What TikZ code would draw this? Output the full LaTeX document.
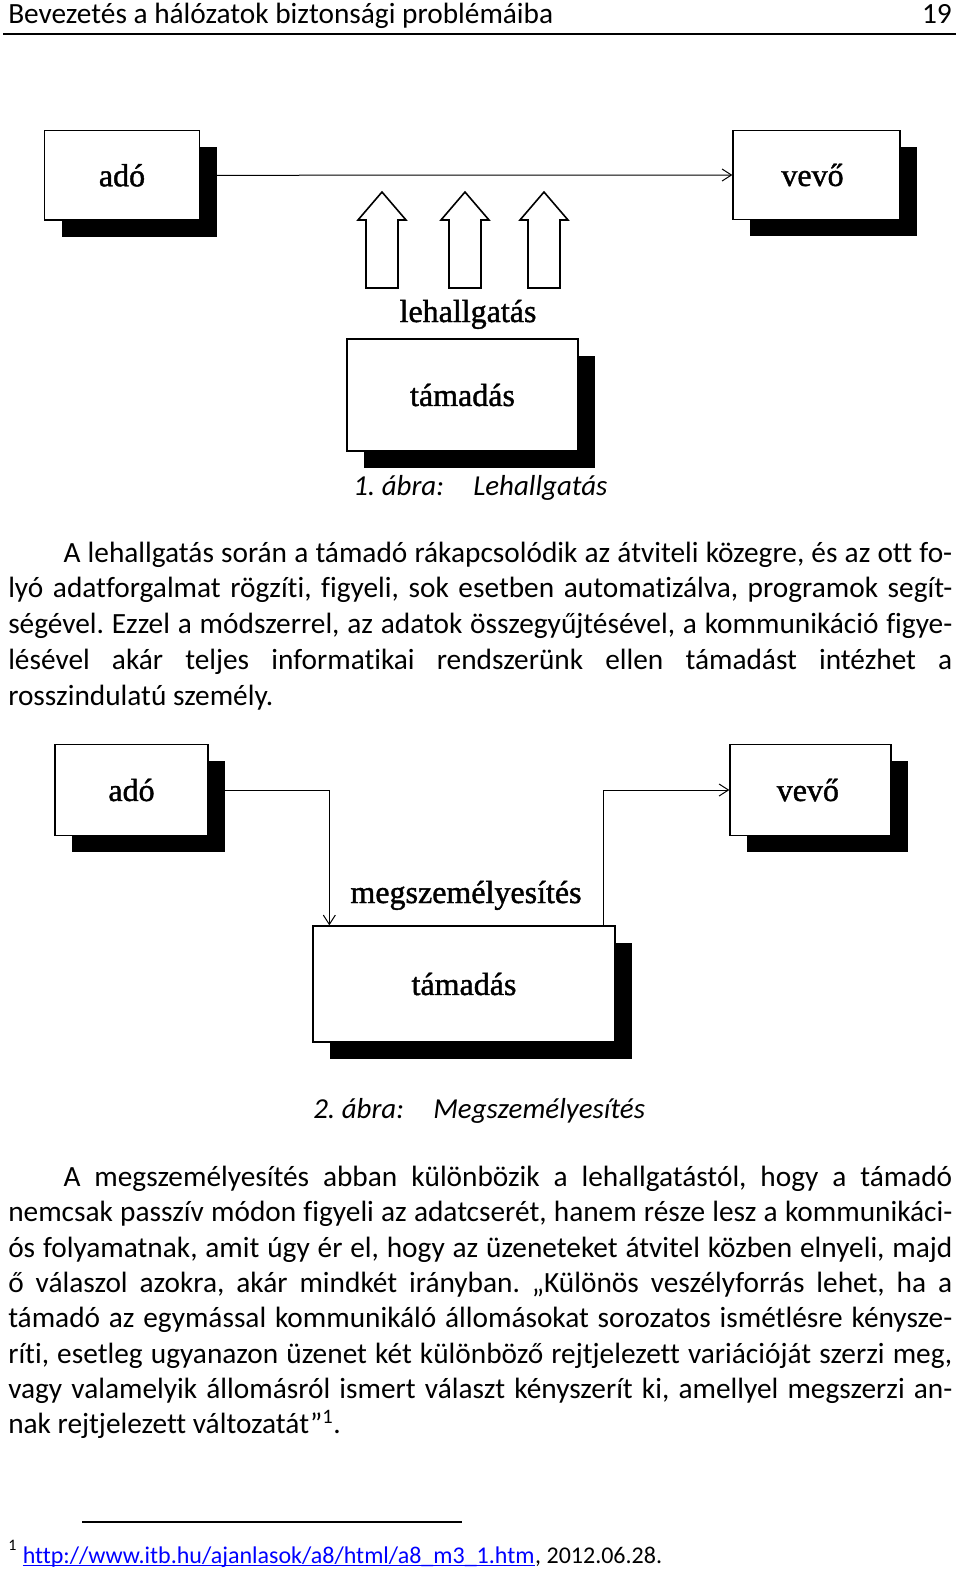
\documentclass[tikz,border=0pt]{standalone}
\usepackage{fontspec}
\setmainfont{Carlito}[Ligatures=NoCommon]
\newfontfamily\diagfont[FakeBold=1.3]{Liberation Serif}
\usetikzlibrary{arrows.meta,shadows,calc}
\definecolor{linkblue}{RGB}{0,0,255}
\newcommand\bodysize{\fontsize{22}{26}\selectfont}
\newcommand\jline[2]{\makebox[#1][s]{#2}}
\frenchspacing
\begin{document}
\frenchspacing
\begin{tikzpicture}[x=0.75pt,y=-0.75pt,
  box/.style={draw=black, line width=1pt, fill=white, inner sep=0pt,
    font=\diagfont\fontsize{24}{28}\selectfont,
    drop shadow={shadow xshift=12.75pt, shadow yshift=-12.5pt, fill=black, opacity=1}},
  lbl/.style={anchor=base, inner sep=0pt, font=\diagfont\fontsize{24}{28}\selectfont},
  txt/.style={anchor=base west, inner sep=0pt, font=\bodysize},
  figcap/.style={anchor=base west, inner sep=0pt, font=\fontsize{21.7}{26}\selectfont\itshape},
  conn/.style={line width=0.75pt, -{Straight Barb[length=7pt,width=9pt]}},
  blockarrow/.style={draw=black, line width=1.2pt, fill=white, line join=miter},
  fnote/.style={anchor=base west, inner sep=0pt, font=\fontsize{18}{21}\selectfont},
]
\useasboundingbox (0,0) rectangle (960,1575);
\fill[white] (0,0) rectangle (960,1575);

% header
\node[txt] (hdr) at (8,23) {Bevezetés a hálózatok biztonsági problémáiba};
\node[txt, anchor=base east] (pg) at (952,23) {19};
\draw[line width=0.9pt] (3,34) -- (956,34);

% figure 1
\node[box, minimum width=116.25pt, minimum height=67pt] (ado1) at (122,175.3) {adó};
\node[box, minimum width=125.25pt, minimum height=66.4pt] (vevo1) at (816.5,175) {\hspace*{-6pt}vevő};
\node[box, minimum width=173.25pt, minimum height=84pt] (tam1) at (462.5,395) {támadás};
\draw[conn] (ado1.east) -- (vevo1.west);
\foreach \cx in {382,465,544}
  \draw[blockarrow] (\cx,192) -- (\cx+24,220) -- (\cx+16,220) -- (\cx+16,288)
    -- (\cx-16,288) -- (\cx-16,220) -- (\cx-24,220) -- cycle;
\node[lbl] (leh) at (468,322) {lehallgatás};
\node[figcap] (cap1) at (353,495) {\makebox[90pt][l]{1. ábra:}Lehallgatás};

% paragraph 1
\node[txt] (p1a) at (63.3,562) {\jline{666.5pt}{A lehallgatás során a támadó rákapcsolódik az átviteli közegre, és az ott fo-}};
\node[txt] (p1b) at (8,597.5) {\jline{708pt}{lyó adatforgalmat rögzíti, figyeli, sok esetben automatizálva, programok segít-}};
\node[txt] (p1c) at (8,633.5) {\jline{708pt}{ségével. Ezzel a módszerrel, az adatok összegyűjtésével, a kommunikáció figye-}};
\node[txt] (p1d) at (8,669.5) {\jline{708pt}{lésével akár teljes informatikai rendszerünk ellen támadást intézhet a}};
\node[txt] (p1e) at (8,705) {rosszindulatú személy.};

% figure 2
\node[box, minimum width=114.75pt, minimum height=68.6pt] (ado2) at (131.5,790) {adó};
\node[box, minimum width=120.75pt, minimum height=68.6pt] (vevo2) at (810.5,790) {\hspace*{-4pt}vevő};
\node[box, minimum width=226.5pt, minimum height=87pt] (tam2) at (464,984) {támadás};
\coordinate (in2) at ($(tam2.north west)+(17,0)$);
\coordinate (out2) at ($(tam2.north east)+(-12,0)$);
\draw[conn] (ado2.east) -| (in2);
\draw[conn] (out2) |- (vevo2.west);
\node[lbl] (megsz) at (466,903) {megszemélyesítés};
\node[figcap] (cap2) at (313,1118) {\makebox[90pt][l]{2. ábra:}Megszemélyesítés};

% paragraph 2
\node[txt] (p2a) at (63.3,1186.5) {\jline{666.5pt}{A megszemélyesítés abban különbözik a lehallgatástól, hogy a támadó}};
\node[txt] (p2b) at (8,1221.8) {\jline{708pt}{nemcsak passzív módon figyeli az adatcserét, hanem része lesz a kommunikáci-}};
\node[txt] (p2c) at (8,1257.1) {\jline{708pt}{ós folyamatnak, amit úgy ér el, hogy az üzeneteket átvitel közben elnyeli, majd}};
\node[txt] (p2d) at (8,1292.4) {\jline{708pt}{ő válaszol azokra, akár mindkét irányban. „Különös veszélyforrás lehet, ha a}};
\node[txt] (p2e) at (8,1327.7) {\jline{708pt}{támadó az egymással kommunikáló állomásokat sorozatos ismétlésre kénysze-}};
\node[txt] (p2f) at (8,1363) {\jline{708pt}{ríti, esetleg ugyanazon üzenet két különböző rejtjelezett variációját szerzi meg,}};
\node[txt] (p2g) at (8,1398.3) {\jline{708pt}{vagy valamelyik állomásról ismert választ kényszerít ki, amellyel megszerzi an-}};
\node[txt] (p2h) at (8,1433.6) {nak rejtjelezett változatát”\textsuperscript{1}.};

% footnote
\draw[line width=1.1pt] (82,1522) -- (462,1522);
\node[anchor=base west, inner sep=0pt, font=\fontsize{12}{14}\selectfont] (fnm) at (8,1550) {1};
\node[fnote, text=linkblue] (url) at (22.5,1563) {http://www.itb.hu/ajanlasok/a8/html/a8\_m3\_1.htm};
\node[fnote] (date) at (url.base east) {, 2012.06.28.};
\draw[linkblue, line width=0.8pt] ([yshift=-2pt]url.base west) -- ([yshift=-2pt]url.base east);
\end{tikzpicture}
\end{document}
